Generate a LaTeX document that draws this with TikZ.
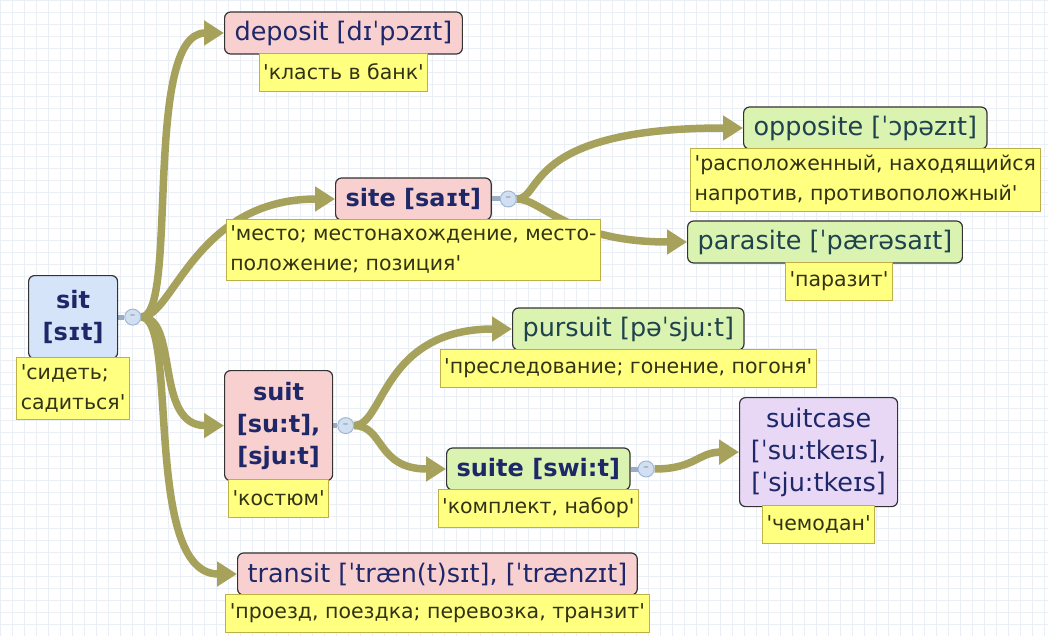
\documentclass[tikz,border=0pt]{standalone}
\usepackage{fontspec}
\setmainfont{DejaVu Sans}[Ligatures=TeXOff]
\usetikzlibrary{arrows.meta, positioning}

\definecolor{linkc}{RGB}{166,162,92}
\definecolor{notefill}{RGB}{255,255,128}
\definecolor{notedraw}{RGB}{190,176,70}
\definecolor{notetext}{RGB}{50,50,20}
\definecolor{pinkfill}{RGB}{249,208,208}
\definecolor{greenfill}{RGB}{218,243,176}
\definecolor{bluefill}{RGB}{214,228,250}
\definecolor{lilacfill}{RGB}{232,216,246}
\definecolor{wordnavy}{RGB}{30,40,105}
\definecolor{wordteal}{RGB}{30,66,78}
\definecolor{gridc}{RGB}{234,239,245}
\definecolor{knobfill}{RGB}{208,224,242}
\definecolor{knobdraw}{RGB}{160,184,212}

\pgfdeclarelayer{paper}
\pgfdeclarelayer{links}
\pgfsetlayers{paper,links,main}

\tikzset{
  word/.style={rectangle, draw=black!80, line width=1.2pt, rounded corners=6pt,
               inner xsep=10pt, inner ysep=6pt, minimum height=42pt,
               align=center, font=\fontsize{25.5}{32}\selectfont, text=wordnavy},
  rootw/.style={word, fill=bluefill},
  pinkw/.style={word, fill=pinkfill},
  greenw/.style={word, fill=greenfill, text=wordteal},
  lilacw/.style={word, fill=lilacfill},
  boldw/.style={font=\fontsize{24}{32}\selectfont\bfseries, text=wordnavy},
  note/.style={rectangle, draw=notedraw, fill=notefill, line width=0.8pt,
               inner xsep=4pt, inner ysep=7pt, minimum height=38pt, align=left,
               font=\fontsize{20.5}{30}\selectfont, text=notetext},
  knob/.style={circle, draw=knobdraw, fill=knobfill, line width=1pt,
               minimum size=16pt, inner sep=0pt,
               font=\fontsize{11}{11}\selectfont, text=black!50},
  stub/.style={line width=5pt, draw=knobdraw!80!gray},
  link/.style={line width=7.5pt, draw=linkc,
               -{Triangle[length=20pt,width=24pt]}},
}

\begin{document}
\begin{tikzpicture}[x=1pt, y=-1pt]
  \useasboundingbox (0,0) rectangle (1048,636);

  \begin{pgfonlayer}{paper}
    \fill[white] (0,0) rectangle (1048,636);
    \foreach \gx in {0,12,...,1048}
      \draw[gridc, line width=0.6pt] (\gx,0) -- (\gx,636);
    \foreach \gy in {0,12,...,636}
      \draw[gridc, line width=0.6pt] (0,\gy) -- (1048,\gy);
  \end{pgfonlayer}

  % words
  \node[rootw, boldw, minimum width=89pt, minimum height=83pt, anchor=north west]
    (sit) at (28,275) {sit\\{[sɪt]}};
  \node[pinkw, anchor=west] (deposit) at (224,33) {deposit [dɪˈpɔzɪt]};
  \node[pinkw, boldw, anchor=west] (site) at (335,199) {site [saɪt]};
  \node[greenw, anchor=west] (opposite) at (743,128) {opposite [ˈɔpəzɪt]};
  \node[greenw, anchor=west] (parasite) at (687,242) {parasite [ˈpærəsaɪt]};
  \node[pinkw, boldw, minimum width=108pt, minimum height=110pt, anchor=north west]
    (suit) at (224,370) {suit\\{[su:t],}\\{[sju:t]}};
  \node[greenw, anchor=west] (pursuit) at (512,329) {pursuit [pəˈsju:t]};
  \node[greenw, boldw, anchor=west] (suite) at (446,469) {suite [swi:t]};
  \node[lilacw, minimum width=158pt, minimum height=109pt, anchor=north west]
    (suitcase) at (739,397) {suitcase\\{[ˈsu:tkeɪs],}\\{[ˈsju:tkeɪs]}};
  \node[pinkw, anchor=west] (transit) at (237,574) {transit [ˈtræn(t)sɪt], [ˈtrænzɪt]};

  % translations
  \node[note, below=-2pt of sit] (sitn) {'сидеть;\\садиться'};
  \node[note, below=-2pt of deposit] (depositn) {'класть в банк'};
  \node[note, below=-2pt of site] (siten) {'место; местонахождение, место-\\положение; позиция'};
  \node[note, below=-2pt of opposite] (oppositen) {'расположенный, находящийся\\напротив, противоположный'};
  \node[note, below=-2pt of parasite, xshift=14pt] (parasiten) {'паразит'};
  \node[note, below=-2pt of suit] (suitn) {'костюм'};
  \node[note, below=-2pt of pursuit] (pursuitn) {'преследование; гонение, погоня'};
  \node[note, below=-2pt of suite] (suiten) {'комплект, набор'};
  \node[note, below=-2pt of suitcase] (suitcasen) {'чемодан'};
  \node[note, below=-2pt of transit] (transitn) {'проезд, поездка; перевозка, транзит'};

  % collapse knobs
  \node[knob, right=6pt of sit] (sitk) {–};
  \node[knob, right=8pt of site] (sitek) {–};
  \node[knob, right=4pt of suit] (suitk) {–};
  \node[knob, right=7pt of suite] (suitek) {–};

  \begin{pgfonlayer}{links}
    \foreach \w in {sit, site, suit, suite}
      \draw[stub] (\w.east) -- (\w k.west);

    \draw[link] (sitk.east) .. controls +(38,0) and +(-82,0) .. (deposit.west);
    \draw[link] (sitk.east) .. controls +(32,0) and +(-140,0) .. (site.west);
    \draw[link] (sitk.east) .. controls +(38,0) and +(-70,0) .. (suit.west);
    \draw[link] (sitk.east) .. controls +(38,0) and +(-95,0) .. (transit.west);

    \draw[link] (sitek.east) .. controls +(26,0) and +(-220,0) .. (opposite.west);
    \draw[link] (sitek.east) .. controls +(25,0) and +(-120,0) .. (parasite.west);

    \draw[link] (suitk.east) .. controls +(30,0) and +(-130,0) .. (pursuit.west);
    \draw[link] (suitk.east) .. controls +(30,0) and +(-70,0) .. (suite.west);

    \draw[link] (suitek.east) .. controls +(40,0) and +(-40,0) .. (suitcase.west);
  \end{pgfonlayer}
\end{tikzpicture}
\end{document}
